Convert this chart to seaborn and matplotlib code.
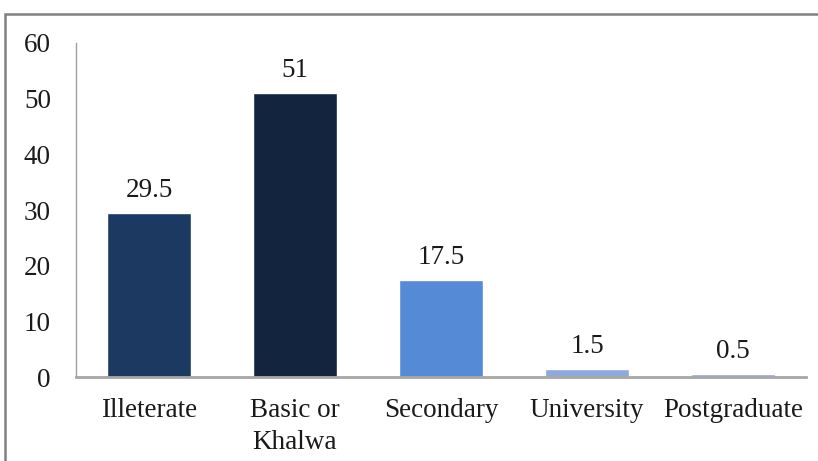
import matplotlib
matplotlib.use("Agg")
import matplotlib.pyplot as plt
import seaborn as sns
import pandas as pd
from matplotlib.patches import Rectangle

categories = ["Illeterate", "Basic or\nKhalwa", "Secondary", "University", "Postgraduate"]
values = [29.5, 51, 17.5, 1.5, 0.5]
value_labels = ["29.5", "51", "17.5", "1.5", "0.5"]
colors = ["#1c3961", "#13243f", "#558bd6", "#8eaadc", "#8eaadc"]
yticks = [0, 10, 20, 30, 40, 50, 60]

sns.set_theme(style="white")
plt.rcParams["font.family"] = ["Liberation Serif", "DejaVu Serif"]

df = pd.DataFrame({"cat": categories, "val": values})

fig = plt.figure(figsize=(8.18, 4.61), dpi=100)
ax = fig.add_axes([76 / 818, 1 - 377 / 461, (806 - 76) / 818, (377 - 43) / 461])

sns.barplot(data=df, x="cat", y="val", hue="cat", palette=colors, legend=False,
            width=0.57, saturation=1, ax=ax)

ax.set_ylim(0, 60)
ax.set_xlim(-0.5, 4.5)
ax.set_yticks(yticks)
ax.set_xlabel("")
ax.set_ylabel("")
ax.tick_params(axis="y", length=0, pad=18, labelsize=19.5, labelcolor="#1a1a1a")
ax.tick_params(axis="x", length=0, pad=15, labelsize=19.5, labelcolor="#1a1a1a")
for lab in ax.get_xticklabels():
    lab.set_linespacing(1.4)

for s in ["top", "right"]:
    ax.spines[s].set_visible(False)
ax.spines["left"].set_color("#a0a0a0")
ax.spines["left"].set_linewidth(1.0)
ax.spines["bottom"].set_color("#a6a6a6")
ax.spines["bottom"].set_linewidth(2.0)

for i, (v, t) in enumerate(zip(values, value_labels)):
    ax.annotate(t, (i, v), xytext=(0, 7), textcoords="offset points",
                ha="center", va="bottom", fontsize=19.5, color="#1a1a1a")

fig.patches.append(Rectangle((5 / 818, -0.05), 1.1, 1 - 14 / 461 + 0.05,
                             transform=fig.transFigure, fill=False,
                             edgecolor="#808080", linewidth=1.8))

fig.savefig("out.png", dpi=100, facecolor="white")
